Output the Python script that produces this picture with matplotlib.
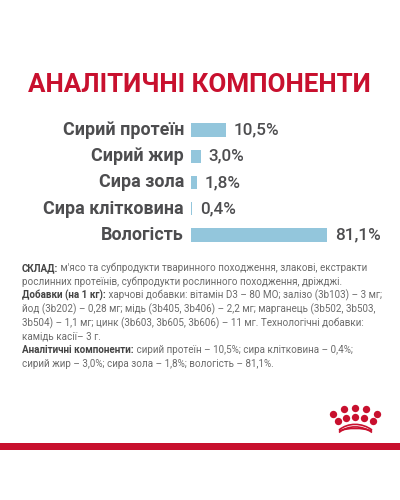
import numpy as np
import matplotlib
matplotlib.use("Agg")
import matplotlib.pyplot as plt
from matplotlib.patches import PathPatch, Rectangle
from matplotlib.path import Path

plt.rcParams['font.family'] = ['Roboto', 'DejaVu Sans']

title = "АНАЛІТИЧНІ КОМПОНЕНТИ"
categories = ["Сирий протеїн", "Сирий жир", "Сира зола", "Сира клітковина", "Вологість"]
values = [10.5, 3.0, 1.8, 0.4, 81.1]
value_labels = ["10,5%", "3,0%", "1,8%", "0,4%", "81,1%"]

# bold lead-in, regular remainder, one entry per line
text_lines = [
    ("СКЛАД:", " м'ясо та субпродукти тваринного походження, злакові, екстракти"),
    ("", "рослинних протеїнів, субпродукти рослинного походження, дріжджі."),
    ("Добавки (на 1 кг):", " харчові добавки: вітамін D3 – 80 МО; залізо (3b103) – 3 мг;"),
    ("", "йод (3b202) – 0,28 мг; мідь (3b405, 3b406) – 2,2 мг; марганець (3b502, 3b503,"),
    ("", "3b504) – 1,1 мг; цинк (3b603, 3b605, 3b606) – 11 мг. Технологічні добавки:"),
    ("", "камідь касії– 3 г."),
    ("Аналітичні компоненти:", " сирий протеїн – 10,5%; сира клітковина – 0,4%;"),
    ("", "сирий жир – 3,0%; сира зола – 1,8%; вологість – 81,1%."),
]

RED = "#c8102e"
BLUE = "#93c6dc"

fig = plt.figure(figsize=(4, 5), dpi=100, facecolor="white")

# page layer in pixel coordinates
page = fig.add_axes([0, 0, 1, 1])
page.set_xlim(0, 400)
page.set_ylim(500, 0)
page.axis("off")

page.text(199, 85.5, title, color=RED, fontsize=18.7, fontweight="bold",
          family=["Liberation Sans Narrow", "Roboto"], ha="center", va="center")
page.add_patch(Rectangle((0, 443), 400, 7, color=RED, lw=0))

# bars: the reference's axis is not linear, short bars are stretched
def bar_forward(x):
    return np.interp(x, [0, 10.5, 81.1], [0, 35, 136])

def bar_inverse(x):
    return np.interp(x, [0, 35, 136], [0, 10.5, 81.1])

ax = fig.add_axes([191 / 400, (500 - 243) / 500, 136 / 400, 126 / 500])
ax.set_xscale("function", functions=(bar_forward, bar_inverse))
ax.barh(range(len(values)), values, height=0.5, color=BLUE)
ax.set_xlim(0, 81.1)
ax.set_ylim(4.305, -0.495)
ax.axis("off")

for i, (cat, val, lab) in enumerate(zip(categories, values, value_labels)):
    ax.annotate(cat, xy=(0, i), xytext=(-5, 0), textcoords="offset points",
                ha="right", va="center", fontsize=12.9, fontweight="bold",
                color="#4d4d4f", annotation_clip=False)
    ax.annotate(lab, xy=(val, i), xytext=(5.5, 0), textcoords="offset points",
                ha="left", va="center", fontsize=12.3, fontweight="medium",
                color="#4d4d4f", annotation_clip=False)

# ingredients block, bold and regular runs placed one after the other
fig.canvas.draw()
renderer = fig.canvas.get_renderer()
line_y = np.linspace(268, 364, len(text_lines))
for (bold, rest), y in zip(text_lines, line_y):
    x = 22
    if bold:
        t = page.text(x, y, bold, fontsize=7.1, fontweight="bold", color="#444444",
                      ha="left", va="center")
        x += t.get_window_extent(renderer).width
    page.text(x, y, rest, fontsize=7.1, color="#6b6b6b", ha="left", va="center")

# crown logo
dots_x = [333, 343.7, 355, 366.3, 377, 337.7, 346, 355, 364, 372.7]
dots_y = [413.7, 409.3, 408, 409.3, 413.7, 421.3, 418, 416.7, 418, 421.3]
page.scatter(dots_x, dots_y, s=28, color=RED, lw=0)
for y0, y1 in [(430, 423.5), (432.5, 426), (431, 428.5)]:
    arc = Path([(339, y0), (348, y1 - 1), (362, y1 - 1), (372, y0)],
               [Path.MOVETO, Path.CURVE4, Path.CURVE4, Path.CURVE4])
    page.add_patch(PathPatch(arc, fc="none", ec=RED, lw=1.2))

fig.savefig("out.png", dpi=100, facecolor="white")
